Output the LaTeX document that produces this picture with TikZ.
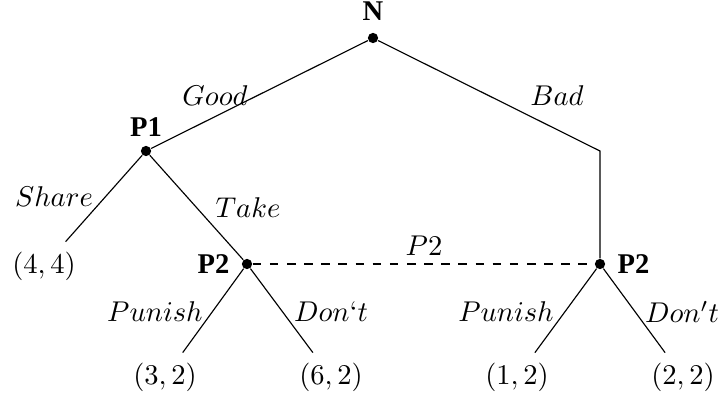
\documentclass[tikz,border=0pt]{standalone}
\usepackage[no-math]{fontspec}
\newfontfamily\playerfont{Liberation Serif}
\usetikzlibrary{positioning}
\begin{document}
\begin{tikzpicture}[x=0.35pt, y=-0.35pt,
            dot/.style={circle, fill, inner sep=0pt, minimum size=3.6pt},
            player/.style={font=\playerfont\bfseries, inner sep=2pt}]
          \useasboundingbox (0,0) rectangle (722,400);
          % decision nodes
          \node[dot] (nature) at (373,38) {};
          \node[dot] (pone) at (146,151) {};
          \coordinate (bend) at (600,151);
          \node[dot] (ptwoL) at (247,264) {};
          \node[dot] (ptwoR) at (600,264) {};
          % player names
          \node[player, above=2pt of nature] (lblN) {N};
          \node[player, above=1pt of pone] (lblP1) {P1};
          \node[player, left=2pt of ptwoL] (lblP2L) {P2};
          \node[player, right=2pt of ptwoR] (lblP2R) {P2};
          % payoffs
          \node (share) at (44,266) {$(4,4)$};
          \node (punL) at (165,377) {$(3,2)$};
          \node (dontL) at (331,377) {$(6,2)$};
          \node (punR) at (517,377) {$(1,2)$};
          \node (dontR) at (683,377) {$(2,2)$};
          % branches
          \draw (nature) -- (pone);
          \draw (nature) -- (bend) -- (ptwoR);
          \draw (pone) -- (share);
          \draw (pone) -- (ptwoL);
          \draw (ptwoL) -- (punL);
          \draw (ptwoL) -- (dontL);
          \draw (ptwoR) -- (punR);
          \draw (ptwoR) -- (dontR);
          \draw[dashed] (ptwoL) -- (ptwoR);
          % branch labels
          \node (lblGood) at (215,96) {$Good$};
          \node (lblBad) at (557,96) {$Bad$};
          \node (lblShare) at (54,197) {$Share$};
          \node (lblTake) at (248,208) {$Take$};
          \node (lblInfo) at (424,246) {$P2$};
          \node (lblPunL) at (155,312) {$Punish$};
          \node (lblDontL) at (331,312) {$Don`t$};
          \node (lblPunR) at (506,312) {$Punish$};
          \node (lblDontR) at (682,312) {$Don't$};
        \end{tikzpicture}
\end{document}
